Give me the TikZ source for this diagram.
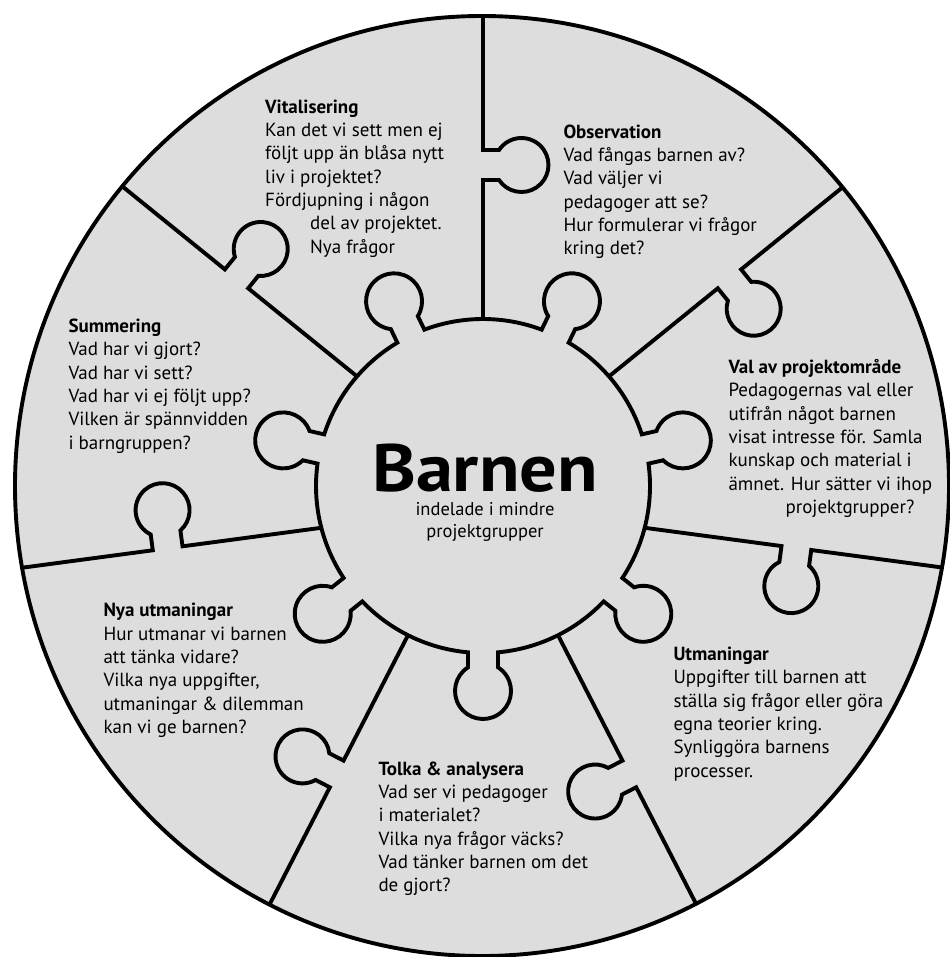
\documentclass[tikz,border=0pt]{standalone}
\usepackage{fontspec}
\setmainfont{PT Sans}
\newfontfamily\barnenfont[FakeStretch=1.11]{PT Sans}
\usetikzlibrary{calc}
\definecolor{puzzlegray}{RGB}{221,221,221}
\tikzset{
  puzzleline/.style={line width=3.9pt, draw=black, line join=miter},
  block/.style={anchor=north west, inner sep=0pt, align=left, font=\fontsize{19}{23.3}\selectfont},
  subtext/.style={anchor=base, inner sep=0pt, font=\fontsize{18.5}{22}\selectfont},
}
% #1 inner point, #2 direction (deg), #3 distance of knob from inner point
\newcommand\knobline[3]{%
  \draw[puzzleline] (#1) -- ++({#2}:{#3-15}) -- ++({#2-90}:16)
    arc[start angle={#2+123.75}, end angle={#2+416.25}, radius=27]
    -- ++({#2+90}:16) -- ++({#2}:700);
}
\begin{document}
\begin{tikzpicture}[x=1pt,y=1pt]
\useasboundingbox (0,0) rectangle (949,-957);
\fill[white] (0,0) rectangle (949,-957);
% outer disc
\fill[puzzlegray] (482,-486) ellipse [x radius=467, y radius=470];
\begin{scope}
  \clip (482,-486) ellipse [x radius=467, y radius=470];
  \knobline{483,-319}{90}{154}
  \knobline{609,-376.4}{39}{155}
  \knobline{644.7,-527.8}{-7.6}{153}
  \knobline{558,-635.2}{-62.8}{156}
  \knobline{408,-635.2}{-117.2}{156}
  \knobline{321.3,-527.8}{-172.4}{155}
  \knobline{357,-376.4}{141}{155}
\end{scope}
\draw[puzzleline] (482,-486) ellipse [x radius=467, y radius=470];
% inner star
\begin{scope}[shift={(483,-486)}]
  \draw[puzzleline, fill=puzzlegray] (-95.153:167)
    \foreach \a in {-90,-38.5714,12.8571,64.2857,115.7143,167.1429,218.5714} {
      -- ({\a-4.728}:181.98)
      arc[start angle={\a+212.4}, end angle={\a+507.6}, radius=28]
      -- ({\a+5.153}:167)
      arc[start angle={\a+5.153}, end angle={\a+46.2756}, radius=167]
    } -- cycle;
\end{scope}
% centre text
\node[anchor=base, inner sep=0pt, font=\fontsize{67}{67}\barnenfont\bfseries\selectfont] (barnen) at (485,-491) {Barnen};
\node[subtext] (sub1) at (485,-515.5) {indelade i mindre};
\node[subtext] (sub2) at (485,-537.5) {projektgrupper};
% blocks
\node[block] (vital) at (265,-96.7) {\strut\textbf{Vitalisering}\\Kan det vi sett men ej\\följt upp än blåsa nytt\\liv i projektet?\\Fördjupning i någon\\\hspace*{45pt}del av projektet.\\\hspace*{45pt}Nya frågor};
\node[block] (obs) at (563.3,-121.7) {\strut\textbf{Observation}\\Vad fångas barnen av?\\Vad väljer vi\\pedagoger att se?\\Hur formulerar vi frågor\\kring det?};
\node[block] (val) at (728.3,-357) {\strut\textbf{Val av projektområde}\\Pedagogernas val eller\\utifrån något barnen\\visat intresse för. Samla\\kunskap och material i\\ämnet. Hur sätter vi ihop\\\hspace*{57pt}projektgrupper?};
\node[block] (summ) at (68.3,-316) {\strut\textbf{Summering}\\Vad har vi gjort?\\Vad har vi sett?\\Vad har vi ej följt upp?\\Vilken är spännvidden\\i barngruppen?};
\node[block] (nya) at (103.3,-600.4) {\strut\textbf{Nya utmaningar}\\Hur utmanar vi barnen\\att tänka vidare?\\Vilka nya uppgifter,\\utmaningar \& dilemman\\kan vi ge barnen?};
\node[block] (utm) at (673.3,-644) {\strut\textbf{Utmaningar}\\Uppgifter till barnen att\\ställa sig frågor eller göra\\egna teorier kring.\\Synliggöra barnens\\processer.};
\node[block] (tolka) at (378.3,-758.7) {\strut\textbf{Tolka \& analysera}\\Vad ser vi pedagoger\\i materialet?\\Vilka nya frågor väcks?\\Vad tänker barnen om det\\de gjort?};
\end{tikzpicture}
\end{document}
